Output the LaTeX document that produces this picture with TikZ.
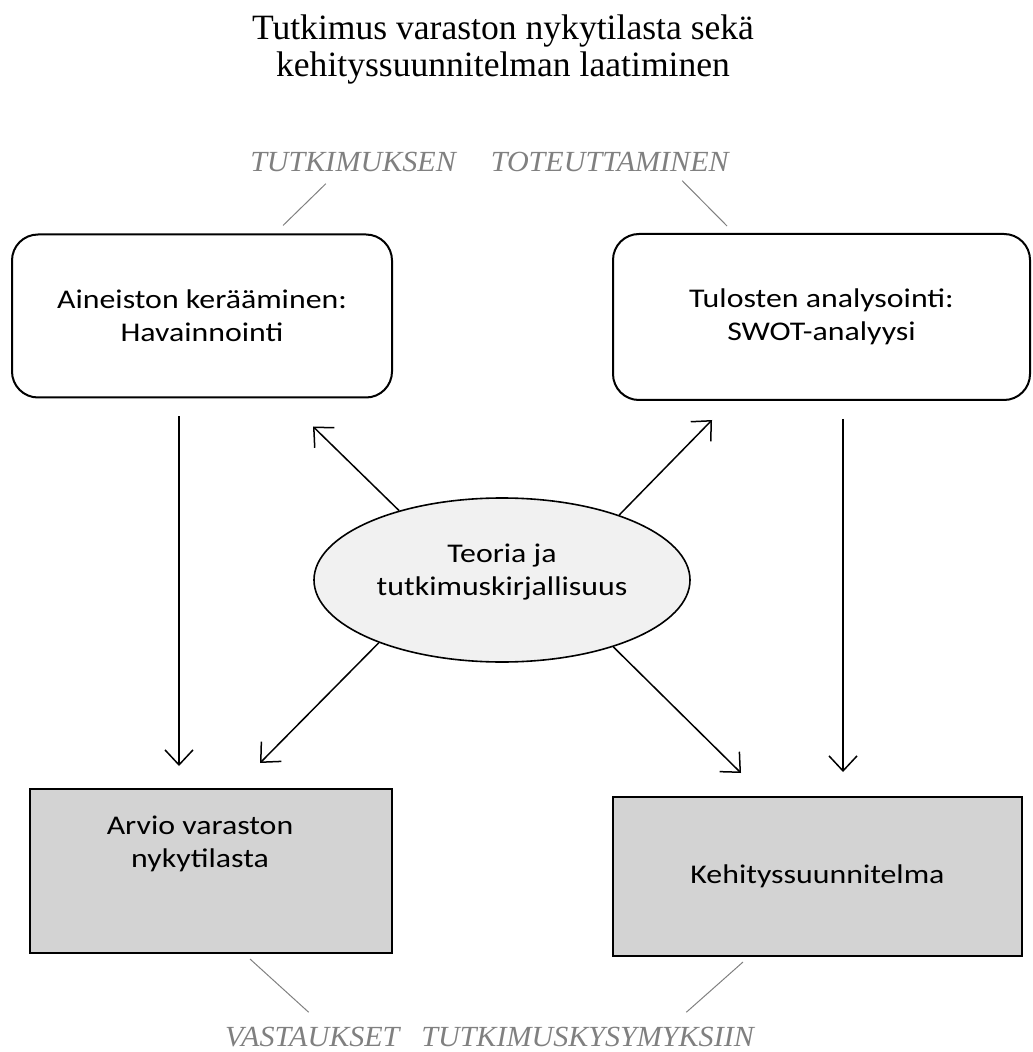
\documentclass[tikz,border=0pt]{standalone}
\usepackage{fontspec}
\setmainfont{Liberation Serif}
\newfontfamily\laatikkofont[FakeStretch=1.18]{Carlito}
\newfontfamily\vaihefont[FakeStretch=1.03]{Liberation Serif}
\usetikzlibrary{arrows.meta,shapes.geometric,calc}

\definecolor{tulosharmaa}{RGB}{211,211,211}
\definecolor{teoriaharmaa}{RGB}{241,241,241}
\definecolor{vaiheharmaa}{RGB}{128,128,128}

\tikzset{
  laatikko/.style={draw, line width=1pt, inner sep=0pt, align=center,
    font=\laatikkofont\fontsize{13.5}{16.5}\selectfont},
  pyorea/.style={laatikko, rounded corners=13pt},
  tulos/.style={laatikko, fill=tulosharmaa},
  teksti/.style={inner sep=0pt, align=center,
    font=\laatikkofont\fontsize{13.5}{16.5}\selectfont},
  nuoli/.style={-{Straight Barb[length=7.5pt,width=14pt]}, line width=0.75pt},
  vaihe/.style={inner sep=0pt, text=vaiheharmaa,
    font=\vaihefont\itshape\fontsize{14.6}{17}\selectfont},
  viiva/.style={draw=vaiheharmaa, line width=0.5pt}
}

\begin{document}
\begin{tikzpicture}[x=0.5pt,y=-0.5pt]
    \useasboundingbox (0,0) rectangle (1032,1052);

    % Otsikko
    \node[inner sep=0pt, anchor=north, align=center, font=\fontsize{17.8}{18.5}\selectfont]
        (otsikko) at (503,14) {Tutkimus varaston nykytilasta sekä\\ kehityssuunnitelman laatiminen};

    % Vaiheet ylhaalla ja alhaalla
    \node[vaihe, anchor=base] (toteutus) at (489.5,172) {TUTKIMUKSEN\hspace{1.2em}TOTEUTTAMINEN};
    \node[vaihe, anchor=base] (vastaus) at (489.5,1046) {VASTAUKSET\hspace{0.75em}TUTKIMUSKYSYMYKSIIN};

    % Laatikot
    \node[pyorea, minimum width=190pt, minimum height=81.5pt] (keruu) at (202,316)
        {Aineiston kerääminen:\\ Havainnointi};
    \node[pyorea, minimum width=208.5pt, minimum height=83pt] (analyysi) at (821.5,317)
        {Tulosten analysointi:\\ SWOT-analyysi};
    \node[tulos, minimum width=181pt, minimum height=82pt] (arvio) at (211,871) {};
    \node[teksti] (arviot) at ($(arvio.center)+(-11,-27)$) {Arvio varaston\\ nykytilasta};
    \node[tulos, minimum width=204.5pt, minimum height=79.5pt] (suunnitelma) at (817.5,876.5)
        {Kehityssuunnitelma};

    % Teoria keskella
    \node[ellipse, draw, line width=0.8pt, fill=teoriaharmaa, minimum width=188pt,
        minimum height=82pt] (teoria) at (502,580) {};
    \node[teksti] (teoriat) at ($(teoria.center)+(0,-8)$) {Teoria ja\\ tutkimuskirjallisuus};

    % Nuolet
    \draw[nuoli] ($(keruu.south)+(-23,18)$) -- ($(keruu.south |- arvio.north)+(-23,-22)$);
    \draw[nuoli] ($(analyysi.south)+(21.5,18)$) -- ($(analyysi.south |- suunnitelma.north)+(21.5,-24)$);
    \draw[nuoli] (teoria.146.6) -- ($(keruu.south east)+(-80,28)$);
    \draw[nuoli] (teoria.29.5) -- ($(analyysi.south west)+(100,19)$);
    \draw[nuoli] (teoria.207.2) -- ($(arvio.north east)+(-133,-25)$);
    \draw[nuoli] (teoria.329.5) -- ($(suunnitelma.north west)+(129,-23)$);

    % Viivat vaiheisiin
    \draw[viiva] ($(toteutus.south west)+(76,11)$) -- ($(keruu.north)+(81,-8)$);
    \draw[viiva] ($(toteutus.south east)+(-47,8)$) -- ($(analyysi.north)+(-94.5,-7)$);
    \draw[viiva] ($(arvio.south)+(39,5)$) -- ($(vastaus.north west)+(84,-14)$);
    \draw[viiva] ($(suunnitelma.south)+(-74.5,5)$) -- ($(vastaus.north east)+(-68,-14)$);
\end{tikzpicture}
\end{document}
